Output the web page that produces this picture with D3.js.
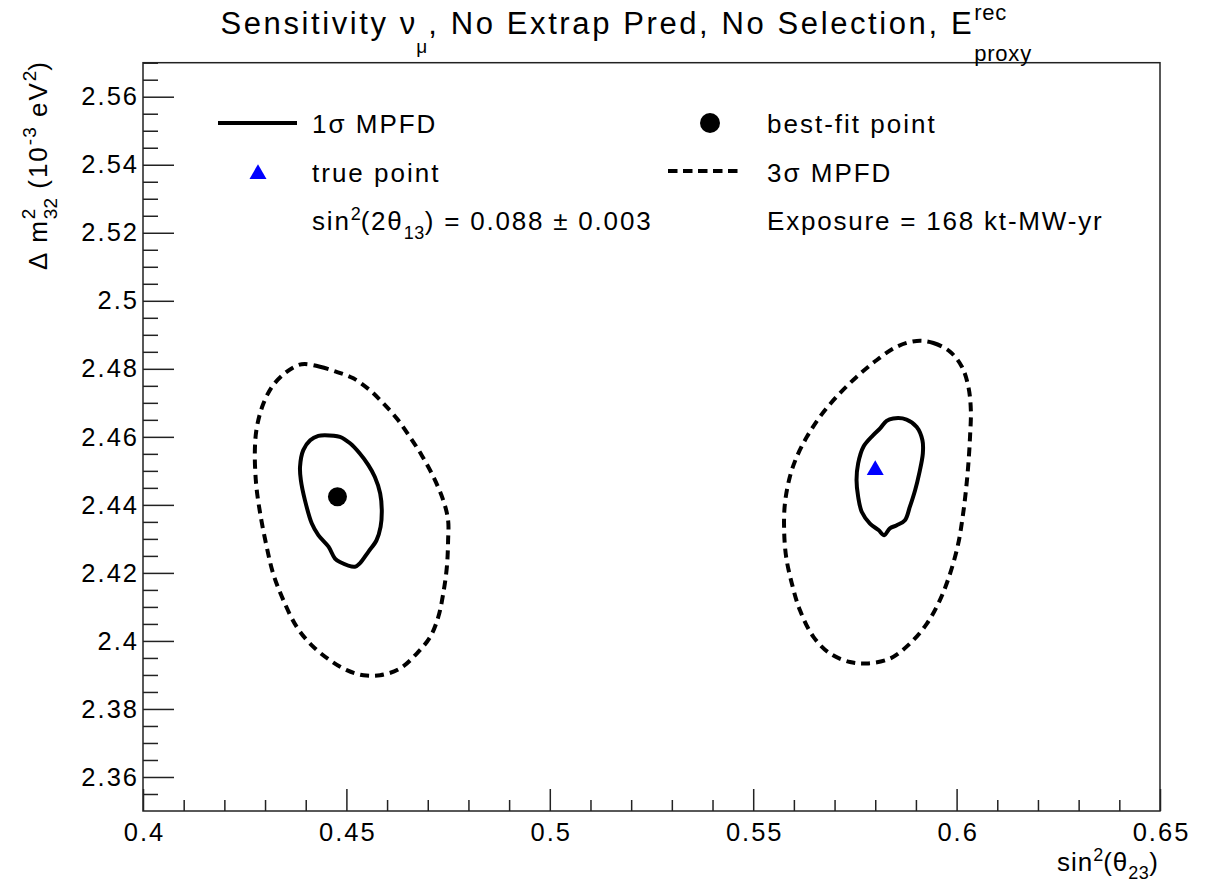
<!DOCTYPE html>
<html>
<head>
<meta charset="utf-8">
<script src="https://cdn.jsdelivr.net/npm/d3@7"></script>
<style>
  body { margin: 0; background: #fff; }
  svg { display: block; font-family: "Liberation Sans", Arial, sans-serif; }
  svg text { white-space: pre; }
</style>
</head>
<body>
<div id="chart"></div>
<script>
// Canvas and frame
var svgWidth = 1212;
var svgHeight = 882;
var frame = { left: 143, top: 62.7, right: 1160, bottom: 811 };

// Axis ranges and ticks
var xDomain = [0.4, 0.65];
var yDomain = [2.35, 2.57];
var xTicks = [0.4, 0.45, 0.5, 0.55, 0.6, 0.65];
var xTickLabels = ["0.4", "0.45", "0.5", "0.55", "0.6", "0.65"];
var yTicks = [2.36, 2.38, 2.4, 2.42, 2.44, 2.46, 2.48, 2.5, 2.52, 2.54, 2.56];
var yTickLabels = ["2.36", "2.38", "2.4", "2.42", "2.44", "2.46", "2.48", "2.5", "2.52", "2.54", "2.56"];

// Contours: [sin^2(theta23), dm2_32]
var left1Sigma = [
  [0.4447, 2.4605], [0.4484, 2.4600], [0.4509, 2.4581], [0.4533, 2.4551], [0.4554, 2.4517],
  [0.4570, 2.4482], [0.4583, 2.4434], [0.4587, 2.4384], [0.4584, 2.4335], [0.4574, 2.4296],
  [0.4554, 2.4262], [0.4533, 2.4228], [0.4521, 2.4218], [0.4484, 2.4232], [0.4472, 2.4242],
  [0.4456, 2.4277], [0.4431, 2.4311], [0.4415, 2.4345], [0.4398, 2.4414], [0.4388, 2.4473],
  [0.4386, 2.4512], [0.4394, 2.4561], [0.4411, 2.4590], [0.4431, 2.4603]
];
var left3Sigma = [
  [0.4398, 2.4814], [0.4435, 2.4806], [0.4476, 2.4791], [0.4517, 2.4772], [0.4558, 2.4737],
  [0.4591, 2.4698], [0.4624, 2.4654], [0.4656, 2.4600], [0.4685, 2.4546], [0.4714, 2.4482],
  [0.4738, 2.4414], [0.4750, 2.4355], [0.4750, 2.4296], [0.4747, 2.4218], [0.4738, 2.4139],
  [0.4726, 2.4071], [0.4706, 2.4012], [0.4673, 2.3963], [0.4632, 2.3919], [0.4583, 2.3899],
  [0.4542, 2.3899], [0.4501, 2.3914], [0.4460, 2.3943], [0.4415, 2.3987], [0.4378, 2.4041],
  [0.4345, 2.4120], [0.4320, 2.4198], [0.4304, 2.4277], [0.4288, 2.4375], [0.4278, 2.4463],
  [0.4275, 2.4561], [0.4280, 2.4629], [0.4296, 2.4698], [0.4320, 2.4752], [0.4353, 2.4791],
  [0.4382, 2.4811]
];
var right1Sigma = [
  [0.5844, 2.4654], [0.5877, 2.4651], [0.5902, 2.4629], [0.5916, 2.4590], [0.5917, 2.4551],
  [0.5908, 2.4492], [0.5898, 2.4443], [0.5885, 2.4394], [0.5873, 2.4355], [0.5853, 2.4340],
  [0.5836, 2.4331], [0.5822, 2.4311], [0.5808, 2.4326], [0.5787, 2.4345], [0.5767, 2.4379],
  [0.5758, 2.4424], [0.5754, 2.4473], [0.5758, 2.4522], [0.5771, 2.4571], [0.5795, 2.4605],
  [0.5812, 2.4625], [0.5828, 2.4647]
];
var right3Sigma = [
  [0.5902, 2.4882], [0.5943, 2.4876], [0.5984, 2.4850], [0.6013, 2.4806], [0.6029, 2.4747],
  [0.6035, 2.4679], [0.6033, 2.4600], [0.6029, 2.4522], [0.6023, 2.4443], [0.6015, 2.4365],
  [0.6004, 2.4286], [0.5984, 2.4198], [0.5959, 2.4120], [0.5927, 2.4051], [0.5885, 2.3992],
  [0.5836, 2.3948], [0.5779, 2.3934], [0.5738, 2.3938], [0.5689, 2.3963], [0.5648, 2.4012],
  [0.5615, 2.4090], [0.5595, 2.4169], [0.5581, 2.4247], [0.5576, 2.4326], [0.5578, 2.4404],
  [0.5590, 2.4482], [0.5607, 2.4541], [0.5632, 2.4600], [0.5664, 2.4659], [0.5705, 2.4718],
  [0.5754, 2.4776], [0.5804, 2.4826], [0.5853, 2.4865]
];
var bestFit = [0.4478, 2.4424];
var truePoint = [0.5800, 2.4502];

var svg = d3.select("#chart").append("svg")
  .attr("width", svgWidth)
  .attr("height", svgHeight);

var xScale = d3.scaleLinear().domain(xDomain).range([frame.left, frame.right]);
var yScale = d3.scaleLinear().domain(yDomain).range([frame.bottom, frame.top]);

// Lay out text pieces one after another (for sub/superscripts)
function richText(parent, x, y, segs, opts) {
  opts = opts || {};
  var outer = parent.append("g")
    .attr("transform", "translate(" + x + "," + y + ")" + (opts.rotate ? " rotate(-90)" : ""));
  var g = outer.append("g");
  var cx = 0;
  segs.forEach(function(s) {
    var parts = s.stack ? s.stack : [s];
    var w = 0;
    parts.forEach(function(p) {
      var t = g.append("text")
        .attr("x", cx)
        .attr("y", p.dy || 0)
        .attr("font-size", p.fs)
        .attr("letter-spacing", p.ls || 0)
        .attr("fill", "#000")
        .text(p.t);
      w = Math.max(w, t.node().getComputedTextLength());
    });
    cx += w;
  });
  if (opts.anchor === "end") g.attr("transform", "translate(" + (-cx) + ",0)");
  return outer;
}

// Contours
var contour = d3.line()
  .x(function(d) { return xScale(d[0]); })
  .y(function(d) { return yScale(d[1]); })
  .curve(d3.curveCatmullRomClosed.alpha(0.5));

[left3Sigma, right3Sigma].forEach(function(c) {
  svg.append("path").attr("d", contour(c))
    .attr("fill", "none").attr("stroke", "#000")
    .attr("stroke-width", 4).attr("stroke-dasharray", "9,6");
});
[left1Sigma, right1Sigma].forEach(function(c) {
  svg.append("path").attr("d", contour(c))
    .attr("fill", "none").attr("stroke", "#000")
    .attr("stroke-width", 4);
});

// Points
svg.append("circle")
  .attr("cx", xScale(bestFit[0])).attr("cy", yScale(bestFit[1]))
  .attr("r", 9.5).attr("fill", "#000");

var tri = d3.symbol().type(d3.symbolTriangle).size(125);
svg.append("path").attr("d", tri())
  .attr("transform", "translate(" + xScale(truePoint[0]) + "," + yScale(truePoint[1]) + ")")
  .attr("fill", "#0000ff");

// Axes: major and minor ticks drawn inward
var yMinor = d3.range(2.355, 2.5701, 0.005).filter(function(v) { return Math.abs(Math.round(v * 50) - v * 50) > 1e-6; });
var xMinor = d3.range(0.41, 0.6501, 0.01).filter(function(v) { return Math.abs(Math.round(v * 20) - v * 20) > 1e-6; });

var yAxis = svg.append("g")
  .attr("transform", "translate(" + frame.left + ",0)")
  .call(d3.axisLeft(yScale).tickValues(yTicks).tickSize(-31).tickPadding(4)
    .tickFormat(function(d, i) { return yTickLabels[i]; }));
svg.append("g")
  .attr("transform", "translate(" + frame.left + ",0)")
  .call(d3.axisLeft(yScale).tickValues(yMinor).tickSize(-15).tickFormat(""));

var xAxis = svg.append("g")
  .attr("transform", "translate(0," + frame.bottom + ")")
  .call(d3.axisBottom(xScale).tickValues(xTicks).tickSize(-22).tickPadding(12)
    .tickFormat(function(d, i) { return xTickLabels[i]; }));
svg.append("g")
  .attr("transform", "translate(0," + frame.bottom + ")")
  .call(d3.axisBottom(xScale).tickValues(xMinor).tickSize(-11).tickFormat(""));

svg.selectAll(".domain").remove();
svg.selectAll(".tick line").attr("stroke", "#222").attr("stroke-width", 1.5);
svg.selectAll(".tick text")
  .attr("font-family", "Liberation Sans, Arial, sans-serif")
  .attr("font-size", 25.5).attr("letter-spacing", 2).attr("fill", "#000");
xAxis.selectAll(".tick text").attr("dx", 1);

// Frame
svg.append("rect")
  .attr("x", frame.left).attr("y", frame.top)
  .attr("width", frame.right - frame.left).attr("height", frame.bottom - frame.top)
  .attr("fill", "none").attr("stroke", "#222").attr("stroke-width", 1.5);

// Title
richText(svg, 220.5, 34, [
  { t: "Sensitivity ", fs: 31, ls: 2.6 },
  { t: "ν", fs: 31, ls: 1 },
  { t: "μ", fs: 19, dy: 19, ls: 1 },
  { t: ", No Extrap Pred, No Selection, E", fs: 31, ls: 2.6 },
  { stack: [{ t: "rec", fs: 22, dy: -14, ls: 0.8 }, { t: "proxy", fs: 22, dy: 27, ls: 0.8 }] }
]);

// Axis titles
richText(svg, 1158, 871, [
  { t: "sin", fs: 26, ls: 1 },
  { t: "2", fs: 18, dy: -10 },
  { t: "(θ", fs: 26, ls: 1 },
  { t: "23", fs: 18, dy: 8, ls: 0.5 },
  { t: ")", fs: 26 }
], { anchor: "end" });

richText(svg, 47, 62, [
  { t: "Δ m", fs: 26, ls: 2 },
  { stack: [{ t: "2", fs: 19, dy: -12 }, { t: "32", fs: 19, dy: 10 }] },
  { t: " (10", fs: 26, ls: 2 },
  { t: "-3", fs: 19, dy: -11, ls: 1 },
  { t: " eV", fs: 26, ls: 2 },
  { t: "2", fs: 19, dy: -11 },
  { t: ")", fs: 26 }
], { anchor: "end", rotate: true });

// Legend
var legendLabels = ["1σ MPFD", "best-fit point", "true point", "3σ MPFD"];
svg.append("line").attr("x1", 218).attr("x2", 297).attr("y1", 123).attr("y2", 123)
  .attr("stroke", "#000").attr("stroke-width", 4);
svg.append("circle").attr("cx", 710).attr("cy", 123).attr("r", 10).attr("fill", "#000");
svg.append("path").attr("d", tri()).attr("transform", "translate(258,174)").attr("fill", "#0000ff");
svg.append("line").attr("x1", 668).attr("x2", 740).attr("y1", 171).attr("y2", 171)
  .attr("stroke", "#000").attr("stroke-width", 4).attr("stroke-dasharray", "9.5,5.5");

var legendPos = [[312, 133], [767, 133], [312, 182], [767, 182]];
legendLabels.forEach(function(l, i) {
  richText(svg, legendPos[i][0], legendPos[i][1], [{ t: l, fs: 26, ls: 2 }]);
});

richText(svg, 312, 230, [
  { t: "sin", fs: 26, ls: 1.8 },
  { t: "2", fs: 18, dy: -10 },
  { t: "(2θ", fs: 26, ls: 1.8 },
  { t: "13", fs: 18, dy: 9, ls: 0.5 },
  { t: ") = 0.088 ± 0.003", fs: 26, ls: 1.8 }
]);
richText(svg, 767, 230, [{ t: "Exposure = 168 kt-MW-yr", fs: 26, ls: 1.8 }]);
</script>
</body>
</html>
